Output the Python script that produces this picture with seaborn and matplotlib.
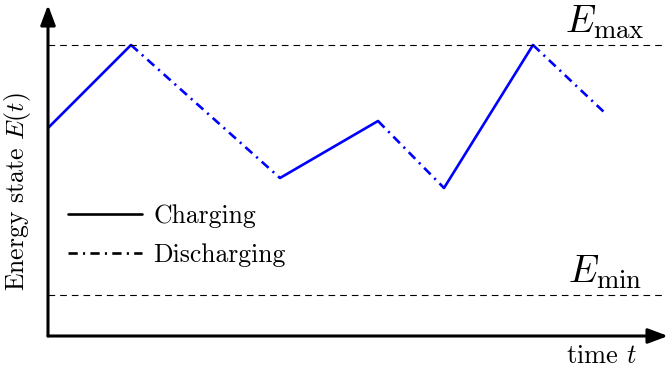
import matplotlib
matplotlib.use("Agg")
import matplotlib.pyplot as plt
import seaborn as sns
import pandas as pd
from matplotlib.lines import Line2D

sns.set_style("white")
plt.rcParams["font.family"] = ["cmr10", "DejaVu Serif"]
plt.rcParams["mathtext.fontset"] = "cm"
plt.rcParams["axes.formatter.use_mathtext"] = True
plt.rcParams["text.color"] = "black"

# Energy trajectory: breakpoints in time and stored energy (E_min = 0, E_max = 1)
t_points = [0.0, 0.83, 2.32, 3.30, 3.96, 4.85, 5.57]
e_points = [0.668, 1.0, 0.468, 0.696, 0.428, 1.0, 0.728]
modes = ["Charging", "Discharging", "Charging", "Discharging", "Charging", "Discharging"]
e_min, e_max = 0.0, 1.0

rows = []
for i, m in enumerate(modes):
    for j in (i, i + 1):
        rows.append({"t": t_points[j], "E": e_points[j], "mode": m, "seg": i})
df = pd.DataFrame(rows)

W, H = 668, 374
fig = plt.figure(figsize=(W / 100, H / 100), dpi=100)
x0, y0, x1, y1 = 48, 336, 668, 5
ax = fig.add_axes([x0 / W, (H - y0) / H, (x1 - x0) / W, (y0 - y1) / H])

dash_styles = {"Charging": "", "Discharging": (3.5, 2.0, 0.8, 2.0)}
sns.lineplot(data=df, x="t", y="E", style="mode", units="seg", estimator=None,
             dashes=dash_styles, color="#0000ff", lw=1.9, legend=False, ax=ax,
             sort=False)

# limits from the pixel geometry of the axes
ax.set_xlim(0, 6.2)
ax.set_ylim(-0.164, 1.16)
ax.set_xlabel("")
ax.set_ylabel("")
ax.set_xticks([])
ax.set_yticks([])
for s in ax.spines.values():
    s.set_visible(False)

# limit lines
for lvl in (e_min, e_max):
    ax.plot([0, 6.15], [lvl, lvl], color="black", lw=0.8, dashes=(6, 4.5))

ax.text(5.57, e_max + 0.015, r"$E_{\max}$", fontsize=27.5, ha="center", va="bottom")
ax.text(5.57, e_min + 0.015, r"$E_{\min}$", fontsize=27.5, ha="center", va="bottom")

# axis arrows
arrow = dict(arrowstyle="-|>,head_length=1.2,head_width=0.45", color="black", lw=2.2,
             shrinkA=0, shrinkB=0)
ax.annotate("", xy=(0, 1.0), xytext=(0, 0), xycoords="axes fraction",
            arrowprops=arrow, annotation_clip=False)
ax.annotate("", xy=(1.0, 0), xytext=(0, 0), xycoords="axes fraction",
            arrowprops=arrow, annotation_clip=False)

fig.text(18 / W, 1 - 192 / H, r"Energy state $E(t)$", rotation=90, fontsize=18.5,
         ha="center", va="center")
fig.text(601 / W, 1 - 356 / H, r"time $t$", fontsize=19, ha="center", va="center")

handles = [Line2D([], [], color="black", lw=1.9),
           Line2D([], [], color="black", lw=1.9, dashes=(3.5, 2.0, 0.8, 2.0))]
ax.legend(handles, ["Charging", "Discharging"], frameon=False, fontsize=18.5,
          handlelength=2.87, handletextpad=0.43, labelspacing=0.6,
          loc="upper left", bbox_to_anchor=(10 / (x1 - x0), 1 - 189 / (y0 - y1)),
          borderaxespad=0)

fig.savefig("out.png", dpi=100)
